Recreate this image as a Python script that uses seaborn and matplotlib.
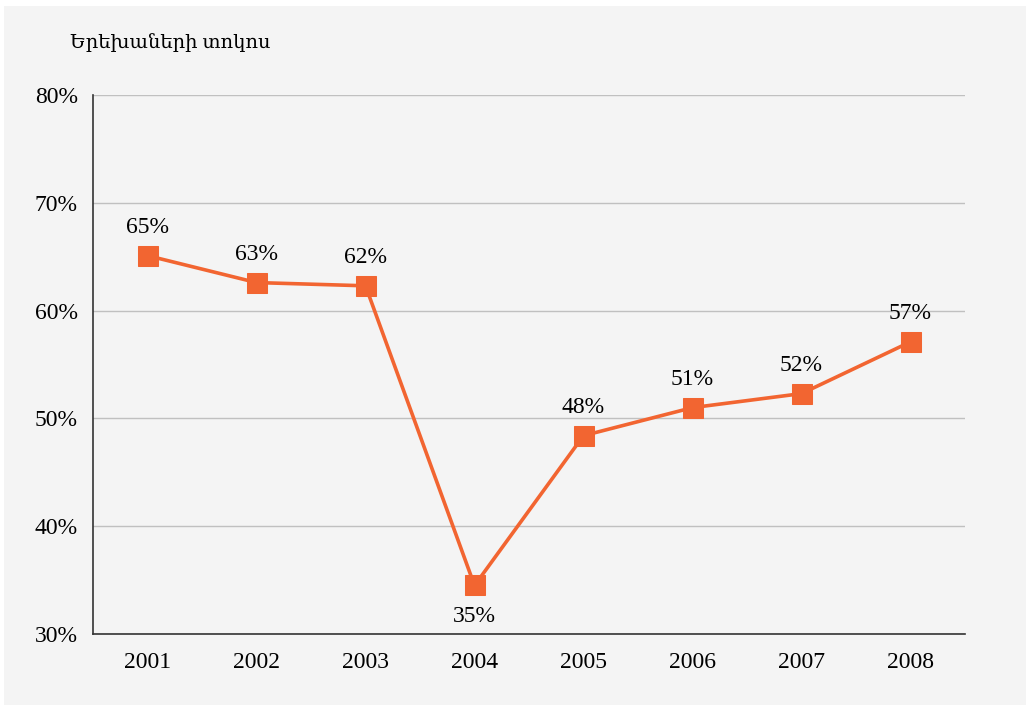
import numpy as np
import pandas as pd
import seaborn as sns
import matplotlib.pyplot as plt
from matplotlib.patches import Rectangle

# data
years = ['2001', '2002', '2003', '2004', '2005', '2006', '2007', '2008']
share = [65.1, 62.6, 62.3, 34.5, 48.4, 51.0, 52.3, 57.1]
labels = ['65%', '63%', '62%', '35%', '48%', '51%', '52%', '57%']
title = 'Երեխաների տոկոս'

orange = '#f26531'
bg = '#f4f4f4'

sns.set_style('white')
plt.rcParams['font.family'] = ['Liberation Serif', 'DejaVu Serif']

df = pd.DataFrame({'year': years, 'share': share})

fig = plt.figure(figsize=(10.3, 7.07), dpi=100, facecolor='white')
fig.patches.append(Rectangle((4 / 1030, 2 / 707), 1022 / 1030, 699 / 707,
                             transform=fig.transFigure, facecolor=bg,
                             edgecolor='none', zorder=-10))
ax = fig.add_axes([93 / 1030, 1 - 634 / 707, 872 / 1030, 539 / 707])
ax.set_facecolor(bg)

sns.lineplot(data=df, x='year', y='share', ax=ax, color=orange, lw=2.6,
             marker='s', markersize=14.5, markeredgecolor=orange, sort=False, zorder=3)

# value labels, the 2004 one goes below
for i, (v, t) in enumerate(zip(share, labels)):
    if i == 3:
        ax.annotate(t, (i, v), xytext=(0, -15), textcoords='offset points',
                    ha='center', va='top', fontsize=17, color='black')
    else:
        ax.annotate(t, (i, v), xytext=(0, 13), textcoords='offset points',
                    ha='center', va='bottom', fontsize=17, color='black')

ax.set_xlim(-0.5, len(years) - 0.5)
ax.set_ylim(30, 80)
ax.set_yticks(np.arange(30, 81, 10))
ax.set_yticklabels([f'{v}%' for v in range(30, 81, 10)], fontsize=17, color='black')
ax.yaxis.grid(True, color='#c0c0c0', lw=1)
ax.set_axisbelow(True)

ax.set_xticks(range(len(years)))
ax.set_xticklabels(years, fontsize=17, color='black')
ax.tick_params(axis='x', which='major', length=0, pad=13)
ax.set_xticks(np.arange(0.5, len(years), 1), minor=True)
ax.tick_params(axis='x', which='minor', direction='in', length=7, width=1, color='#333333')
ax.tick_params(axis='y', direction='out', length=5, width=1, color='#333333', pad=6)

for s in ['top', 'right']:
    ax.spines[s].set_visible(False)
for s in ['left', 'bottom']:
    ax.spines[s].set_color('#333333')
    ax.spines[s].set_linewidth(1.2)

ax.set_xlabel('')
ax.set_ylabel('')
fig.text(70 / 1030, 1 - 43 / 707, title, fontsize=14, va='center', ha='left', color='black')

fig.savefig('out.png', dpi=100, facecolor='white')
